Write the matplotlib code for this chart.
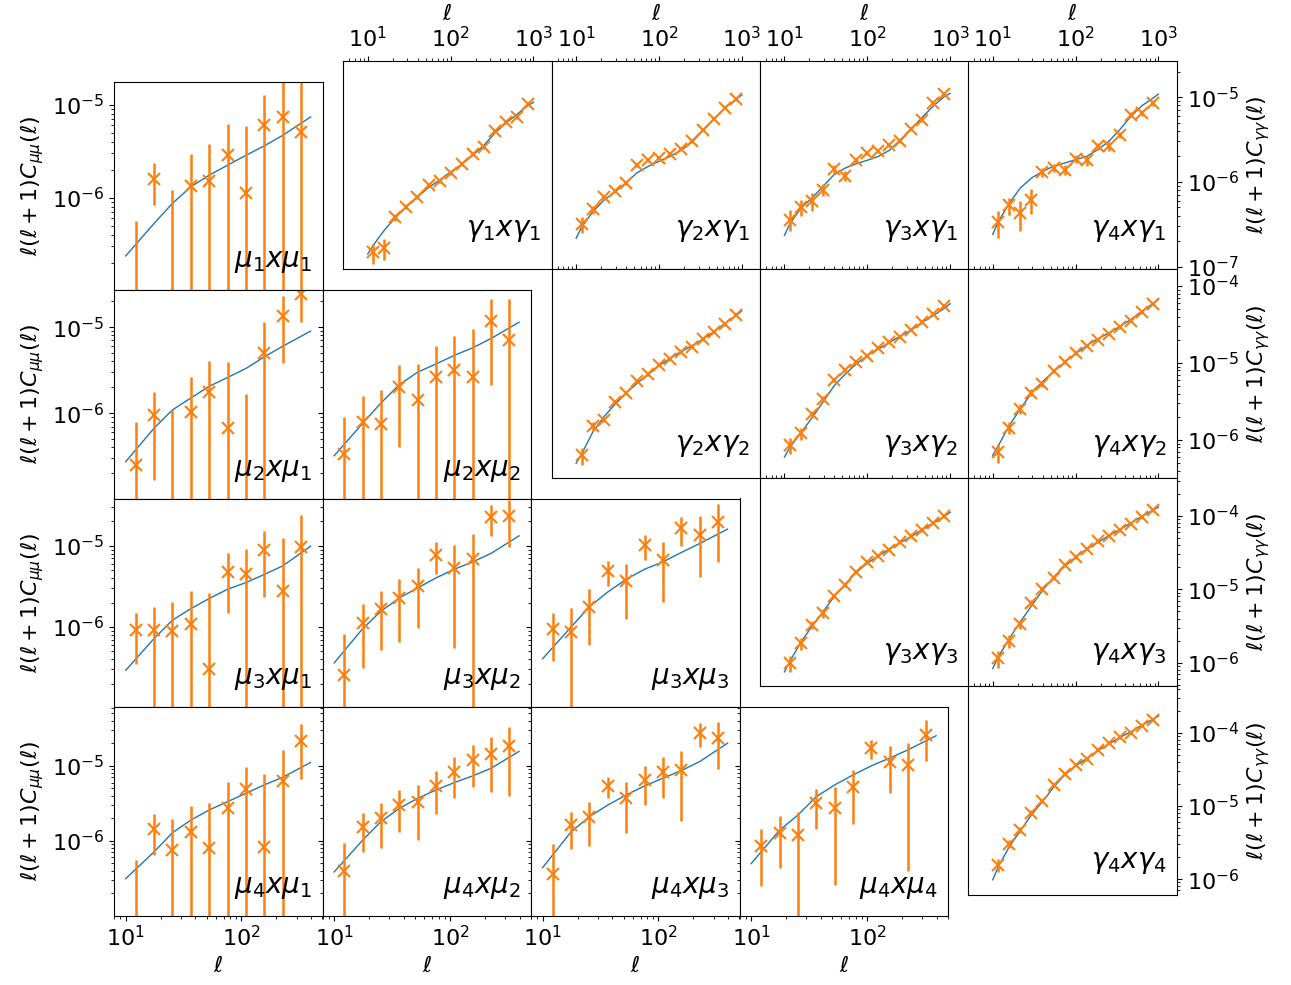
"""
plot.py

Espectros angulares l(l+1)C(l) por pares de bins tomográficos:
triángulo inferior para mu (abajo a la izquierda) y triángulo superior
para gamma (arriba a la derecha). Puntos medidos con barras de error
en naranja, modelo teórico en azul.
"""

import matplotlib

matplotlib.use("Agg")
import matplotlib.pyplot as plt

# ── Configuración ──────────────────────────────────────────────────────────────

W, H = 1291, 985
PANEL = 208.5
MU_LEFT = [114, 322.5, 531, 739.5]
MU_TOP = [81.5, 290, 498.5, 707]
GAM_LEFT = [343.3, 551.7, 760, 968.3]
GAM_TOP = [60.8, 269.3, 477.8, 686.3]

MU_XLIM = (7.93, 501)
GAM_XLIM = (5.07, 1667)
MU_YLIM = [(1.02e-7, 1.78e-5), (1.02e-7, 2.7e-5), (1.03e-7, 3.84e-5), (1.01e-7, 6.1e-5)]
GAM_YLIM = [(9.3e-8, 2.69e-5), (3.23e-7, 1.65e-4), (4.8e-7, 3.27e-4), (6.1e-7, 4.33e-4)]

TICK_SIZE = 16
LABEL_SIZE = 20

# ── Datos: mu ──────────────────────────────────────────────────────────────────

ELL_MU = [12.2, 17.6, 25.3, 36.5, 52.6, 75.8, 109, 157, 227, 326]
ELL_MU_CURVE = [10, 17.6, 25.3, 36.5, 52.6, 75.8, 109, 157, 227, 395]

MU11_Y = [4e-8, 1.61e-6, 5e-8, 1.33e-6, 1.51e-6, 2.91e-6, 1.14e-6, 6.0e-6, 7.38e-6, 5.1e-6]
MU11_ERR = [5.2e-7, 7.8e-7, 1.16e-6, 1.61e-6, 2.25e-6, 3.25e-6, 4.72e-6, 6.6e-6, 1.2e-5, 1.4e-5]
MU11_TH = [2.37e-7, 5.3e-7, 8.7e-7, 1.31e-6, 1.75e-6, 2.24e-6, 2.86e-6, 3.61e-6, 4.69e-6, 7.4e-6]

MU21_Y = [2.49e-7, 9.57e-7, 5e-8, 1.02e-6, 1.76e-6, 6.8e-7, 5e-8, 5.0e-6, 1.34e-5, 2.4e-5]
MU21_ERR = [5.5e-7, 7.9e-7, 1.04e-6, 1.59e-6, 2.25e-6, 3.26e-6, 1.63e-6, 6.5e-6, 9.6e-6, 1.25e-5]
MU21_TH = [2.73e-7, 6.7e-7, 1.09e-6, 1.5e-6, 2.05e-6, 2.6e-6, 3.3e-6, 4.5e-6, 6.0e-6, 8.98e-6]

MU22_Y = [3.32e-7, 7.85e-7, 7.44e-7, 2.0e-6, 1.43e-6, 2.6e-6, 3.2e-6, 2.6e-6, 1.17e-5, 7.18e-6]
MU22_ERR = [5.6e-7, 7.9e-7, 1.13e-6, 1.6e-6, 2.3e-6, 3.4e-6, 4.6e-6, 6.8e-6, 9.6e-6, 1.4e-5]
MU22_TH = [3.2e-7, 7.6e-7, 1.31e-6, 2.14e-6, 3.0e-6, 3.73e-6, 4.7e-6, 5.74e-6, 7.4e-6, 1.14e-5]

MU31_Y = [9.1e-7, 9.1e-7, 8.85e-7, 1.1e-6, 3.06e-7, 4.77e-6, 4.55e-6, 8.85e-6, 2.75e-6, 9.7e-6]
MU31_ERR = [5.6e-7, 8.5e-7, 1.15e-6, 1.65e-6, 2.3e-6, 3.3e-6, 4.7e-6, 6.5e-6, 9.8e-6, 1.4e-5]
MU31_TH = [2.92e-7, 7.2e-7, 1.21e-6, 1.68e-6, 2.24e-6, 2.92e-6, 3.52e-6, 4.43e-6, 5.66e-6, 9.9e-6]

MU32_Y = [2.58e-7, 1.12e-6, 1.65e-6, 2.28e-6, 3.18e-6, 7.82e-6, 5.35e-6, 6.9e-6, 2.28e-5, 2.34e-5]
MU32_ERR = [5.7e-7, 8.1e-7, 1.13e-6, 1.63e-6, 2.2e-6, 3.3e-6, 4.8e-6, 7.0e-6, 9.5e-6, 1.37e-5]
MU32_TH = [3.6e-7, 9.5e-7, 1.56e-6, 2.28e-6, 3.03e-6, 4.03e-6, 5.15e-6, 6.34e-6, 8.1e-6, 1.33e-5]

MU33_Y = [9.35e-7, 8.67e-7, 1.77e-6, 4.87e-6, 3.66e-6, 1.02e-5, 6.65e-6, 1.64e-5, 1.36e-5, 1.98e-5]
MU33_ERR = [5.6e-7, 8.7e-7, 1.17e-6, 1.65e-6, 2.4e-6, 3.5e-6, 4.6e-6, 6.5e-6, 9.5e-6, 1.35e-5]
MU33_TH = [4.06e-7, 1.0e-6, 1.77e-6, 2.7e-6, 3.87e-6, 5.15e-6, 6.34e-6, 8.27e-6, 1.07e-5, 1.61e-5]

MU41_Y = [5e-8, 1.46e-6, 7.66e-7, 1.32e-6, 8.05e-7, 2.71e-6, 4.87e-6, 8.3e-7, 6.37e-6, 2.12e-5]
MU41_ERR = [5.1e-7, 8.2e-7, 1.18e-6, 1.62e-6, 2.35e-6, 3.45e-6, 4.9e-6, 7.0e-6, 9.7e-6, 1.45e-5]
MU41_TH = [3.13e-7, 7.13e-7, 1.28e-6, 1.89e-6, 2.58e-6, 3.33e-6, 4.3e-6, 5.57e-6, 7.05e-6, 1.11e-5]

MU42_Y = [3.96e-7, 1.54e-6, 1.99e-6, 3.0e-6, 3.33e-6, 5.4e-6, 8.4e-6, 1.2e-5, 1.45e-5, 1.85e-5]
MU42_ERR = [5.5e-7, 8.2e-7, 1.18e-6, 1.7e-6, 2.3e-6, 3.1e-6, 4.7e-6, 6.7e-6, 1.0e-5, 1.45e-5]
MU42_TH = [3.85e-7, 1.02e-6, 1.8e-6, 2.71e-6, 3.69e-6, 4.77e-6, 5.98e-6, 7.35e-6, 9.3e-6, 1.56e-5]

MU43_Y = [3.58e-7, 1.62e-6, 2.05e-6, 5.4e-6, 3.69e-6, 6.5e-6, 8.4e-6, 8.84e-6, 2.74e-5, 2.35e-5]
MU43_ERR = [5.6e-7, 8.4e-7, 1.2e-6, 1.7e-6, 2.4e-6, 3.5e-6, 4.7e-6, 7.0e-6, 9.5e-6, 1.45e-5]
MU43_TH = [4.4e-7, 1.32e-6, 2.1e-6, 3.0e-6, 4.09e-6, 5.4e-6, 6.84e-6, 8.65e-6, 1.14e-5, 2.01e-5]

MU44_Y = [8.49e-7, 1.28e-6, 1.19e-6, 3.16e-6, 2.71e-6, 5.18e-6, 1.73e-5, 1.14e-5, 1.03e-5, 2.6e-5]
MU44_ERR = [6e-7, 8.5e-7, 1.25e-6, 1.7e-6, 2.45e-6, 3.5e-6, 4.8e-6, 7.0e-6, 9.9e-6, 1.45e-5]
MU44_TH = [4.97e-7, 1.39e-6, 2.21e-6, 3.88e-6, 5.57e-6, 7.57e-6, 1.0e-5, 1.27e-5, 1.64e-5, 2.52e-5]

# ── Datos: gamma ───────────────────────────────────────────────────────────────

ELL_GAM = [11.7, 15.9, 21.6, 29.3, 39.8, 54.2, 73.6, 100, 136, 185, 251, 341, 463, 629, 855]
ELL_GAM_CURVE = [10, 11.7, 15.9, 21.6, 29.3, 39.8, 54.2, 73.6, 100, 136, 185, 251, 341,
                 463, 629, 855, 1000]

G11_Y = [1.47e-7, 1.65e-7, 3.81e-7, 5.08e-7, 6.67e-7, 9.14e-7, 1.03e-6, 1.28e-6, 1.61e-6,
         2.11e-6, 2.58e-6, 3.94e-6, 5.07e-6, 5.8e-6, 8.32e-6]
G11_ERR = [4e-8, 4.5e-8, 3.5e-8, 3.5e-8, 4e-8, 5e-8, 5e-8, 6e-8, 7e-8, 9e-8, 1.1e-7, 1.5e-7,
           2e-7, 2.5e-7, 3.5e-7]
G11_TH = [1.41e-7, 1.8e-7, 2.7e-7, 3.81e-7, 5.08e-7, 6.67e-7, 8.57e-7, 1.05e-6, 1.31e-6,
          1.61e-6, 2.06e-6, 2.69e-6, 3.76e-6, 4.93e-6, 6.24e-6, 7.94e-6, 8.7e-6]

G21_Y = [3.18e-7, 4.73e-7, 6.55e-7, 7.83e-7, 9.73e-7, 1.57e-6, 1.8e-6, 1.93e-6, 2.11e-6,
         2.46e-6, 3.03e-6, 4.12e-6, 5.55e-6, 7.46e-6, 9.52e-6]
G21_ERR = [7e-8, 5e-8, 5e-8, 5e-8, 6e-8, 8e-8, 8e-8, 8e-8, 9e-8, 1e-7, 1.2e-7, 1.6e-7,
           2.2e-7, 3e-7, 4e-7]
G21_TH = [2.16e-7, 2.96e-7, 4.44e-7, 6.08e-7, 7.62e-7, 9.73e-7, 1.28e-6, 1.52e-6, 1.75e-6,
          2.0e-6, 2.36e-6, 2.95e-6, 4.04e-6, 5.55e-6, 7.46e-6, 9.52e-6, 1.06e-5]

G31_Y = [3.6e-7, 5.08e-7, 5.92e-7, 8.13e-7, 1.42e-6, 1.19e-6, 1.8e-6, 2.19e-6, 2.3e-6,
         2.7e-6, 3.01e-6, 4.2e-6, 5.31e-6, 8.65e-6, 1.08e-5]
G31_ERR = [1e-7, 1.1e-7, 1.4e-7, 1.3e-7, 1.8e-7, 1.6e-7, 1.2e-7, 1.2e-7, 1.2e-7, 1.3e-7,
           1.5e-7, 2e-7, 2.5e-7, 4e-7, 5e-7]
G31_TH = [2.34e-7, 3.24e-7, 4.94e-7, 6.48e-7, 8.89e-7, 1.22e-6, 1.46e-6, 1.64e-6, 1.8e-6,
          2.0e-6, 2.36e-6, 3.15e-6, 4.2e-6, 5.82e-6, 7.91e-6, 1.02e-5, 1.11e-5]

G41_Y = [3.35e-7, 5.27e-7, 4.32e-7, 6.2e-7, 1.3e-6, 1.46e-6, 1.4e-6, 1.87e-6, 1.8e-6,
         2.63e-6, 2.63e-6, 3.6e-6, 6.2e-6, 6.48e-6, 8.65e-6]
G41_ERR = [1.2e-7, 1.2e-7, 1.7e-7, 2e-7, 1.5e-7, 1.5e-7, 2e-7, 2e-7, 2.5e-7, 2.5e-7, 3e-7,
           3e-7, 4e-7, 5e-7, 7e-7]
G41_TH = [2.4e-7, 3.4e-7, 5.66e-7, 8.5e-7, 1.11e-6, 1.33e-6, 1.53e-6, 1.67e-6, 1.83e-6,
          2.0e-6, 2.4e-6, 3.0e-6, 4.13e-6, 5.92e-6, 7.9e-6, 9.7e-6, 1.09e-5]

G22_Y = [6.31e-7, 1.52e-6, 1.84e-6, 3.13e-6, 4.1e-6, 5.82e-6, 7.11e-6, 9.42e-6, 1.13e-5,
         1.38e-5, 1.63e-5, 2.04e-5, 2.56e-5, 3.19e-5, 4.23e-5]
G22_ERR = [1.6e-7, 2e-7, 1.5e-7, 2e-7, 2.5e-7, 3e-7, 3.5e-7, 4e-7, 5e-7, 6e-7, 7e-7, 9e-7,
           1.1e-6, 1.4e-6, 1.8e-6]
G22_TH = [5.0e-7, 6.64e-7, 1.27e-6, 2.0e-6, 2.89e-6, 4.02e-6, 5.43e-6, 7.11e-6, 9.23e-6,
          1.15e-5, 1.41e-5, 1.68e-5, 2.06e-5, 2.56e-5, 3.29e-5, 4.14e-5, 4.77e-5]

G32_Y = [8.51e-7, 1.23e-6, 2.16e-6, 3.39e-6, 6.0e-6, 8.1e-6, 1.02e-5, 1.25e-5, 1.58e-5,
         1.86e-5, 2.2e-5, 2.69e-5, 3.39e-5, 4.31e-5, 5.43e-5]
G32_ERR = [2e-7, 2.2e-7, 2.5e-7, 3e-7, 4e-7, 4e-7, 4.5e-7, 5e-7, 6e-7, 7e-7, 8e-7, 1e-6,
           1.3e-6, 1.6e-6, 2e-6]
G32_TH = [6.0e-7, 8.1e-7, 1.25e-6, 1.95e-6, 3.13e-6, 5.06e-6, 7.2e-6, 9.7e-6, 1.25e-5,
          1.52e-5, 1.86e-5, 2.23e-5, 2.69e-5, 3.39e-5, 4.14e-5, 5.16e-5, 5.89e-5]

G42_Y = [6.97e-7, 1.45e-6, 2.56e-6, 4.14e-6, 5.32e-6, 7.94e-6, 1.04e-5, 1.35e-5, 1.68e-5,
         2.02e-5, 2.39e-5, 2.92e-5, 3.56e-5, 4.58e-5, 5.89e-5]
G42_ERR = [2e-7, 2.5e-7, 3.5e-7, 4e-7, 4.5e-7, 5e-7, 6e-7, 6e-7, 7e-7, 8e-7, 1e-6, 1.2e-6,
           1.4e-6, 1.8e-6, 2.3e-6]
G42_TH = [6.31e-7, 8.5e-7, 1.55e-6, 2.56e-6, 4.06e-6, 5.71e-6, 7.71e-6, 1.02e-5, 1.32e-5,
          1.68e-5, 2.06e-5, 2.46e-5, 2.98e-5, 3.67e-5, 4.68e-5, 5.89e-5, 6.7e-5]

G33_Y = [1.0e-6, 1.84e-6, 3.27e-6, 4.71e-6, 8.11e-6, 1.15e-5, 1.69e-5, 2.31e-5, 2.85e-5,
         3.44e-5, 4.33e-5, 5.23e-5, 6.31e-5, 7.94e-5, 9.8e-5]
G33_ERR = [2.5e-7, 3.5e-7, 4e-7, 6e-7, 6e-7, 7e-7, 8e-7, 1e-6, 1.2e-6, 1.4e-6, 1.7e-6, 2e-6,
           2.5e-6, 3e-6, 3.8e-6]
G33_TH = [7.54e-7, 1.06e-6, 1.93e-6, 3.16e-6, 4.96e-6, 7.94e-6, 1.18e-5, 1.69e-5, 2.26e-5,
          2.85e-5, 3.51e-5, 4.33e-5, 5.23e-5, 6.44e-5, 7.94e-5, 9.8e-5, 1.11e-4]

G43_Y = [1.15e-6, 2.0e-6, 3.37e-6, 6.44e-6, 1.0e-5, 1.41e-5, 2.15e-5, 2.73e-5, 3.51e-5,
         4.47e-5, 5.33e-5, 6.31e-5, 7.78e-5, 9.59e-5, 1.18e-4]
G43_ERR = [3e-7, 4e-7, 5e-7, 6e-7, 7e-7, 8e-7, 1e-6, 1.2e-6, 1.4e-6, 1.7e-6, 2e-6, 2.5e-6,
           3e-6, 3.7e-6, 4.5e-6]
G43_TH = [8.37e-7, 1.21e-6, 2.15e-6, 3.62e-6, 5.93e-6, 9.6e-6, 1.46e-5, 2.04e-5, 2.73e-5,
          3.51e-5, 4.33e-5, 5.33e-5, 6.44e-5, 7.94e-5, 9.8e-5, 1.18e-4, 1.31e-4]

G44_Y = [1.57e-6, 3.03e-6, 4.71e-6, 8.11e-6, 1.18e-5, 1.93e-5, 2.73e-5, 3.62e-5, 4.33e-5,
         5.81e-5, 7.3e-5, 8.64e-5, 1.0e-4, 1.23e-4, 1.52e-4]
G44_ERR = [3.2e-7, 4e-7, 5e-7, 7e-7, 8e-7, 1e-6, 1.2e-6, 1.4e-6, 1.7e-6, 2.1e-6, 2.6e-6,
           3.1e-6, 3.6e-6, 4.4e-6, 5.4e-6]
G44_TH = [9.8e-7, 1.49e-6, 2.79e-6, 4.61e-6, 7.54e-6, 1.15e-5, 1.8e-5, 2.65e-5, 3.51e-5,
          4.47e-5, 5.69e-5, 7.0e-5, 8.64e-5, 1.03e-4, 1.27e-4, 1.52e-4, 1.69e-4]

# (fila, columna, i, j, y, err, teoría)
MU_PANELS = [
    (0, 0, 1, 1, MU11_Y, MU11_ERR, MU11_TH),
    (1, 0, 2, 1, MU21_Y, MU21_ERR, MU21_TH),
    (1, 1, 2, 2, MU22_Y, MU22_ERR, MU22_TH),
    (2, 0, 3, 1, MU31_Y, MU31_ERR, MU31_TH),
    (2, 1, 3, 2, MU32_Y, MU32_ERR, MU32_TH),
    (2, 2, 3, 3, MU33_Y, MU33_ERR, MU33_TH),
    (3, 0, 4, 1, MU41_Y, MU41_ERR, MU41_TH),
    (3, 1, 4, 2, MU42_Y, MU42_ERR, MU42_TH),
    (3, 2, 4, 3, MU43_Y, MU43_ERR, MU43_TH),
    (3, 3, 4, 4, MU44_Y, MU44_ERR, MU44_TH),
]

GAM_PANELS = [
    (0, 0, 1, 1, G11_Y, G11_ERR, G11_TH),
    (0, 1, 2, 1, G21_Y, G21_ERR, G21_TH),
    (0, 2, 3, 1, G31_Y, G31_ERR, G31_TH),
    (0, 3, 4, 1, G41_Y, G41_ERR, G41_TH),
    (1, 1, 2, 2, G22_Y, G22_ERR, G22_TH),
    (1, 2, 3, 2, G32_Y, G32_ERR, G32_TH),
    (1, 3, 4, 2, G42_Y, G42_ERR, G42_TH),
    (2, 2, 3, 3, G33_Y, G33_ERR, G33_TH),
    (2, 3, 4, 3, G43_Y, G43_ERR, G43_TH),
    (3, 3, 4, 4, G44_Y, G44_ERR, G44_TH),
]


# ── Helpers ────────────────────────────────────────────────────────────────────

def add_px_axes(fig, left, top):
    """Crea un eje a partir de coordenadas en píxeles (origen arriba a la izquierda)."""
    return fig.add_axes([left / W, 1 - (top + PANEL) / H, PANEL / W, PANEL / H])


def draw_panel(ax, ell, y, err, ell_th, th):
    ax.plot(ell_th, th, color="C0", linewidth=1.0)
    ax.errorbar(ell, y, yerr=err, fmt="x", color="C1", markersize=8,
                markeredgewidth=1.5, elinewidth=1.8)
    ax.set_xscale("log")
    ax.set_yscale("log")


# ── Main ───────────────────────────────────────────────────────────────────────

def main() -> None:
    fig = plt.figure(figsize=(W / 100, H / 100), dpi=100)

    for row, col, i, j, y, err, th in MU_PANELS:
        ax = add_px_axes(fig, MU_LEFT[col], MU_TOP[row])
        draw_panel(ax, ELL_MU, y, err, ELL_MU_CURVE, th)
        ax.set_xlim(*MU_XLIM)
        ax.set_ylim(*MU_YLIM[row])
        ax.tick_params(which="both", labelsize=TICK_SIZE)
        ax.text(0.95, 0.11, rf"$\mu_{i}x\mu_{j}$", transform=ax.transAxes,
                ha="right", fontsize=LABEL_SIZE)
        if row == 3:
            ax.set_xlabel(r"$\ell$", fontsize=TICK_SIZE)
        else:
            ax.tick_params(axis="x", which="both", bottom=False, labelbottom=False)
        if col == 0:
            ax.set_ylabel(r"$\ell(\ell+1)C_{\mu\mu}(\ell)$", fontsize=TICK_SIZE)
        else:
            ax.tick_params(axis="y", which="both", labelleft=False)

    for row, col, i, j, y, err, th in GAM_PANELS:
        ax = add_px_axes(fig, GAM_LEFT[col], GAM_TOP[row])
        draw_panel(ax, ELL_GAM, y, err, ELL_GAM_CURVE, th)
        ax.set_xlim(*GAM_XLIM)
        ax.set_ylim(*GAM_YLIM[row])
        ax.tick_params(which="both", labelsize=TICK_SIZE)
        ax.text(0.95, 0.16 if row == 0 else 0.13, rf"$\gamma_{i}x\gamma_{j}$",
                transform=ax.transAxes, ha="right", fontsize=LABEL_SIZE)
        ax.xaxis.tick_top()
        if row == 0:
            ax.xaxis.set_label_position("top")
            ax.set_xlabel(r"$\ell$", fontsize=TICK_SIZE)
        else:
            ax.tick_params(axis="x", which="both", labeltop=False)
        if col == 3:
            ax.yaxis.tick_right()
            ax.yaxis.set_label_position("right")
            ax.set_ylabel(r"$\ell(\ell+1)C_{\gamma\gamma}(\ell)$", fontsize=TICK_SIZE)
        else:
            ax.tick_params(axis="y", which="both", left=False, right=False,
                           labelleft=False, labelright=False)

    fig.savefig("out.png", dpi=100)
    plt.close(fig)


if __name__ == "__main__":
    main()
